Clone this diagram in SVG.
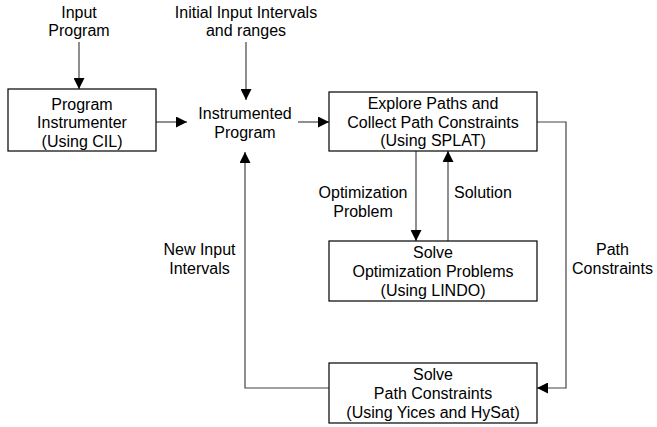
<svg xmlns="http://www.w3.org/2000/svg" width="657" height="427" viewBox="0 0 657 427">
<style>
text{font-family:"Liberation Sans",Arial,sans-serif;font-size:16px;fill:#000;text-anchor:middle}
.box{fill:#fff;stroke:#000;stroke-width:1.2}
.c{fill:none;stroke:#444;stroke-width:1.2}
</style>
<defs>
<marker id="ah" markerUnits="userSpaceOnUse" markerWidth="11" markerHeight="11" refX="11" refY="5.5" orient="auto">
<path d="M0,0 L11,5.5 L0,11 z" fill="#000"/>
</marker>
</defs>
<rect width="657" height="427" fill="#fff"/>
<g id="connectors">
<line class="c" x1="79" y1="42" x2="79" y2="89" marker-end="url(#ah)"/>
<line class="c" x1="246" y1="42" x2="246" y2="100" marker-end="url(#ah)"/>
<line class="c" x1="156" y1="122" x2="187" y2="122" marker-end="url(#ah)"/>
<line class="c" x1="298" y1="122" x2="329" y2="122" marker-end="url(#ah)"/>
<line class="c" x1="416" y1="151" x2="416" y2="241" marker-end="url(#ah)"/>
<line class="c" x1="448" y1="241" x2="448" y2="151" marker-end="url(#ah)"/>
<polyline class="c" points="537,122 566,122 566,388 537,388" marker-end="url(#ah)"/>
<polyline class="c" points="329,388 245,388 245,152" marker-end="url(#ah)"/>
</g>
<g id="input-program">
<text x="79" y="17.5">Input</text>
<text x="79" y="36">Program</text>
</g>
<g id="initial-intervals">
<text x="246" y="17.5">Initial Input Intervals</text>
<text x="246" y="36">and ranges</text>
</g>
<g id="program-instrumenter">
<rect class="box" x="8" y="89" width="148" height="62"/>
<text x="82" y="109.5">Program</text>
<text x="82" y="128">Instrumenter</text>
<text x="82" y="146.5">(Using CIL)</text>
</g>
<g id="instrumented-program">
<text x="245" y="119">Instrumented</text>
<text x="245" y="137.5">Program</text>
</g>
<g id="explore-paths">
<rect class="box" x="329" y="92" width="208" height="59"/>
<text x="433" y="109.3">Explore Paths and</text>
<text x="433" y="127.7">Collect Path Constraints</text>
<text x="433" y="146">(Using SPLAT)</text>
</g>
<g id="solve-optimization">
<rect class="box" x="329" y="241" width="208" height="60"/>
<text x="433" y="258">Solve</text>
<text x="433" y="276.7">Optimization Problems</text>
<text x="433" y="295.5">(Using LINDO)</text>
</g>
<g id="solve-path-constraints">
<rect class="box" x="329" y="363" width="208" height="60"/>
<text x="433" y="380">Solve</text>
<text x="433" y="399">Path Constraints</text>
<text x="433" y="417.5">(Using Yices and HySat)</text>
</g>
<g id="labels">
<text x="363" y="198">Optimization</text>
<text x="363" y="217">Problem</text>
<text x="454" y="198" style="text-anchor:start">Solution</text>
<text x="612.5" y="255">Path</text>
<text x="612.5" y="273.5">Constraints</text>
<text x="199.5" y="255">New Input</text>
<text x="199.5" y="274">Intervals</text>
</g>
</svg>
